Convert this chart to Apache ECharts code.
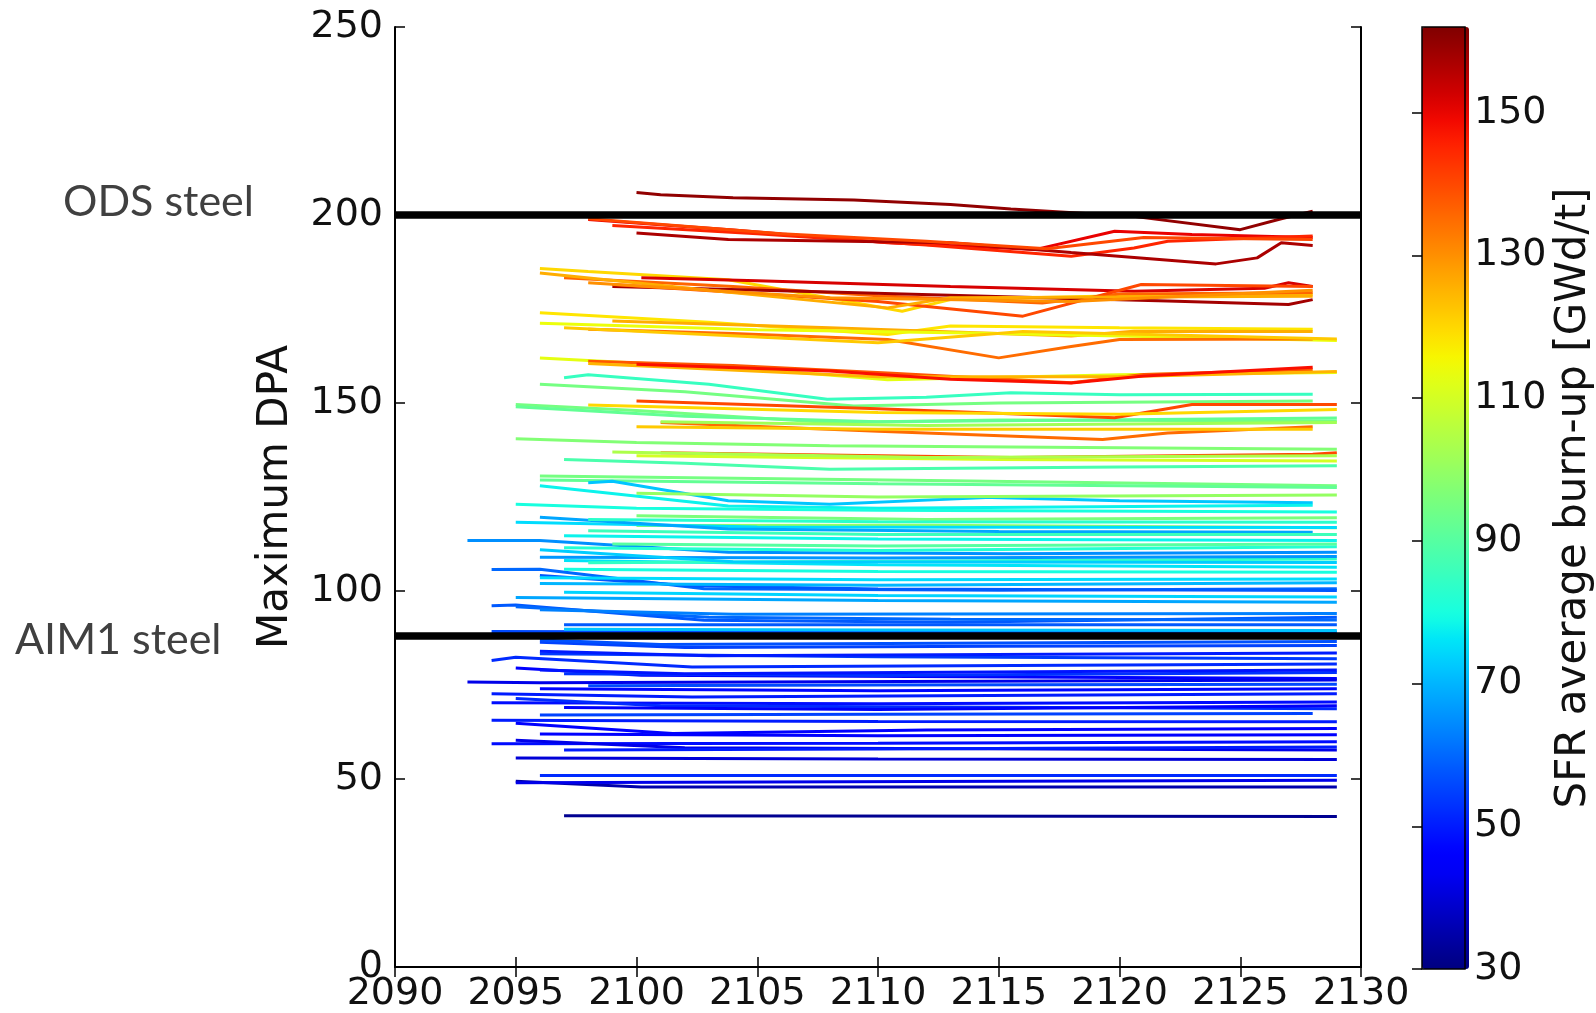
<!DOCTYPE html>
<html>
<head>
<meta charset="utf-8">
<script src="https://cdn.jsdelivr.net/npm/echarts@6/dist/echarts.min.js"></script>
<style>
    html, body { margin: 0; background: #fff; }
    #chart { width: 1596px; height: 1013px; }
</style>
</head>
<body>
<div id="chart"></div>
<script>
// colour scale range of the colour bar (SFR average burn-up, GWd/t)
const cbMin = 30;
const cbMax = 162;

// steel limits (Maximum DPA)
const odsLimit = 200;
const aimLimit = 88;

// each band: burn-up of every curve, then the curve knots [year, DPA]
const redBurnup = [160, 150, 145, 157, 140];
const redPaths = [
    [[2100, 206], [2101, 205.4], [2104, 204.6], [2109, 204], [2113, 202.8], [2115.5, 201.6], [2120.5, 199.7], [2125, 196.1], [2126.7, 199], [2128, 201]],
    [[2098, 198.8], [2104, 196], [2110.4, 192.6], [2116.5, 190.8], [2119.8, 195.7], [2123, 194.8], [2128, 194]],
    [[2099, 197.2], [2105, 195], [2112, 192], [2118, 189], [2120.6, 191.2], [2122, 193], [2128, 194.4]],
    [[2100, 195.2], [2103.8, 193.5], [2113, 192.6], [2118, 190], [2124, 187], [2125.7, 188.6], [2126.7, 192.6], [2128, 191.9]],
    [[2098, 199], [2106, 195], [2112, 193], [2117, 191], [2121, 194], [2128, 193.5]]
];

const orangeBurnup = [120, 152, 136, 158, 140, 126, 130];
const orangePaths = [
    [[2096, 185.8], [2098, 185], [2103.8, 182.8], [2111, 174.4], [2113, 177.5], [2120, 178.5], [2128, 178.9]],
    [[2100.2, 183.3], [2105, 182.5], [2113, 181], [2120.6, 179.7], [2126, 180.5], [2127, 182], [2128, 181]],
    [[2097, 183.3], [2104, 181], [2110, 178.5], [2116.8, 176.6], [2120, 179], [2128, 179.3]],
    [[2099, 181], [2108, 179.5], [2116.8, 178], [2122, 177.1], [2127, 176.2], [2128, 177.5]],
    [[2099, 181.5], [2110, 177], [2116, 173.1], [2120.9, 181.5], [2128, 181]],
    [[2096, 184.6], [2103, 180], [2110.4, 175.3], [2113, 178], [2128, 178.4]],
    [[2098, 182], [2108, 178], [2118, 177], [2128, 180]]
];

const yellowBurnup = [118, 126, 114, 135, 122, 113, 138, 125, 148, 85, 95];
const yellowPaths = [
    [[2096, 174], [2103, 171.5], [2110.4, 168.2], [2113, 170.5], [2120, 170], [2128, 169.6]],
    [[2099, 171.8], [2108, 170], [2118, 167.8], [2120.6, 169.1], [2128, 169]],
    [[2096, 171.2], [2105, 169.5], [2115, 168.5], [2129, 166.6]],
    [[2098, 169.6], [2104, 168.5], [2110.4, 166.9], [2115, 162], [2118, 165], [2120, 166.9], [2128, 167]],
    [[2097, 170], [2110, 166], [2116, 169], [2129, 167]],
    [[2096, 162], [2105, 159], [2110.4, 156.2], [2120, 157.5], [2129, 158.1]],
    [[2098, 161.1], [2104, 160], [2110.4, 158], [2118, 155.4], [2121, 157.6], [2128, 158.9]],
    [[2098, 160.5], [2110, 157], [2120, 157], [2129, 158.4]],
    [[2100, 160.3], [2108, 158.5], [2113, 156.3], [2118, 155.3], [2121, 157.2], [2128, 159.5]],
    [[2097, 156.7], [2098, 157.5], [2103, 155], [2107.9, 151], [2112, 151.5], [2115.5, 152.7], [2120, 152.2], [2128, 152.3]],
    [[2096, 155], [2102, 153], [2109, 149.2], [2115, 150], [2128, 150.5]]
];

const greenBurnup = [95, 92, 140, 120, 135, 122, 102, 97, 140, 110, 88, 104, 95, 92, 72, 78, 80, 100];
const greenPaths = [
    [[2095, 149.6], [2100, 148], [2108, 144.8], [2115, 145.5], [2129, 145.2]],
    [[2095, 149], [2102, 146.5], [2110, 145], [2129, 146]],
    [[2100, 150.5], [2110, 148.5], [2119.8, 146.1], [2123, 149.6], [2129, 149.6]],
    [[2098, 149.5], [2110, 147.5], [2120, 147], [2129, 148.3]],
    [[2101, 144.8], [2110, 142.5], [2119.3, 140.3], [2122, 142], [2128, 143.7]],
    [[2100, 143.7], [2110, 143], [2128, 143]],
    [[2101, 145], [2112, 144], [2129, 144.8]],
    [[2095, 140.5], [2100, 139.5], [2108, 138.6], [2129, 137.7]],
    [[2101, 136.8], [2115.5, 135.5], [2128, 136.4], [2129, 136.8]],
    [[2100, 136], [2115, 135], [2129, 134.6]],
    [[2097, 135], [2102, 134], [2108, 132.4], [2120, 133], [2129, 133.3]],
    [[2099, 137], [2112, 135.5], [2129, 136]],
    [[2096, 130.6], [2113, 129.3], [2129, 128]],
    [[2096, 129.5], [2110, 128.5], [2129, 127.5]],
    [[2098, 128.8], [2099, 129.2], [2103.8, 124], [2108, 123.1], [2114.7, 124.9], [2120, 124], [2128, 123.5]],
    [[2096, 128], [2103.8, 122.6], [2110, 122], [2128, 122.8]],
    [[2095, 123.1], [2100, 122], [2110, 121.5], [2129, 121]],
    [[2100, 126], [2110, 125], [2129, 125.5]]
];

const cyanBurnup = [96, 100, 75, 68, 78, 86, 65, 82, 90, 76, 60, 58, 75, 80, 84, 68, 74, 70, 58, 60, 63, 56, 72, 66, 83, 73, 58];
const cyanPaths = [
    [[2100, 120], [2112, 119], [2129, 119.5]],
    [[2100, 117.4], [2112, 117.5], [2129, 116.8]],
    [[2095, 118.3], [2105, 117], [2129, 116.9]],
    [[2096, 119.6], [2103.8, 116.5], [2115, 115.8], [2128, 115.6]],
    [[2097, 114.7], [2110, 113.8], [2129, 113.4]],
    [[2098, 116], [2110, 115], [2129, 115]],
    [[2093, 113.4], [2096, 113.4], [2103.8, 110.3], [2115.5, 109.9], [2129, 110.3]],
    [[2097, 111.5], [2110, 110.8], [2129, 111.8]],
    [[2099, 112.5], [2110, 112], [2129, 112.5]],
    [[2097, 108.1], [2110, 107], [2129, 106.3]],
    [[2094, 105.7], [2096, 105.8], [2102.8, 100.6], [2115, 100.2], [2129, 100.6]],
    [[2096, 104.1], [2102.3, 101.4], [2110, 100.5], [2129, 100.1]],
    [[2096, 103.5], [2110, 103], [2129, 103.2]],
    [[2097, 105.8], [2110, 105.2], [2129, 105]],
    [[2098, 107.5], [2112, 108], [2129, 108.5]],
    [[2095, 98.3], [2110, 97.5], [2129, 97]],
    [[2097, 99.7], [2110, 98.8], [2129, 98.4]],
    [[2096, 102], [2110, 101.5], [2129, 102.2]],
    [[2094, 96.1], [2095, 96.3], [2102.8, 92.2], [2113, 91.7], [2129, 93]],
    [[2095, 95.8], [2103, 93], [2113, 92.5], [2129, 92.3]],
    [[2096, 95], [2104, 93.8], [2129, 94]],
    [[2094, 89.2], [2110, 89], [2129, 89]],
    [[2097, 89.8], [2110, 89.6], [2129, 89.5]],
    [[2096, 109], [2110, 108.8], [2129, 109.2]],
    [[2098, 119], [2110, 118.4], [2129, 118.3]],
    [[2096, 111], [2104, 107.8], [2129, 107.6]],
    [[2097, 91], [2110, 91], [2129, 91]]
];

const blueBurnup = [55, 52, 45, 54, 57, 42, 50, 48, 52, 50, 55, 45, 48, 42, 50, 40, 52, 35, 42, 32, 47, 53, 50, 46, 44, 56, 49];
const bluePaths = [
    [[2096, 86.4], [2102, 85], [2115, 85.3], [2129, 85.5]],
    [[2094, 81.5], [2095, 82.4], [2102.3, 79.8], [2129, 80.6]],
    [[2095, 79.5], [2100.2, 77.6], [2129, 76.7]],
    [[2096, 83.3], [2110, 82.5], [2129, 82]],
    [[2096, 87], [2101, 85.8], [2129, 86.6]],
    [[2093, 75.8], [2096, 75.6], [2129, 76.3]],
    [[2094, 72.7], [2102.3, 71.8], [2129, 72.7]],
    [[2094, 70.3], [2110, 70], [2129, 70.5]],
    [[2095, 71.4], [2101, 69.5], [2129, 68.7]],
    [[2094, 65.6], [2110, 65.3], [2129, 65.2]],
    [[2096, 67], [2110, 67.2], [2128, 67.4]],
    [[2095, 64.8], [2101.5, 62.1], [2112, 63], [2129, 63.4]],
    [[2094, 59.4], [2110, 59.5], [2129, 59.9]],
    [[2095, 60.3], [2102, 58.3], [2129, 57.7]],
    [[2097, 57.7], [2110, 58], [2129, 58.5]],
    [[2095, 55.6], [2110, 55.3], [2129, 55.2]],
    [[2096, 50.9], [2129, 50.9]],
    [[2095, 49.4], [2100.2, 47.9], [2129, 47.9]],
    [[2095, 49], [2129, 49.7]],
    [[2097, 40.2], [2129, 40]],
    [[2096, 74], [2110, 73.5], [2129, 74]],
    [[2097, 78], [2110, 77.5], [2129, 78.3]],
    [[2096, 84], [2103, 82.8], [2129, 83.5]],
    [[2096, 62], [2110, 61.5], [2129, 61.8]],
    [[2097, 69], [2110, 68.5], [2129, 69.5]],
    [[2098, 74.8], [2110, 75], [2129, 75.2]],
    [[2096, 79], [2102, 78], [2129, 79]]
];

// matplotlib "jet" colour map
const jetR = [[0, 0], [0.35, 0], [0.66, 1], [0.89, 1], [1, 0.5]];
const jetG = [[0, 0], [0.125, 0], [0.375, 1], [0.64, 1], [0.91, 0], [1, 0]];
const jetB = [[0, 0.5], [0.11, 1], [0.34, 1], [0.65, 0], [1, 0]];

function channel(t, stops) {
    for (let i = 1; i < stops.length; i++) {
        if (t <= stops[i][0]) {
            const a = stops[i - 1], b = stops[i];
            return a[1] + (b[1] - a[1]) * (t - a[0]) / (b[0] - a[0]);
        }
    }
    return stops[stops.length - 1][1];
}

function jet(v) {
    const t = Math.min(1, Math.max(0, (v - cbMin) / (cbMax - cbMin)));
    const r = Math.round(channel(t, jetR) * 255);
    const g = Math.round(channel(t, jetG) * 255);
    const b = Math.round(channel(t, jetB) * 255);
    return 'rgb(' + r + ',' + g + ',' + b + ')';
}

const jetStops = [];
for (let i = 0; i <= 40; i++) {
    jetStops.push(jet(cbMin + (cbMax - cbMin) * i / 40));
}

const font = 'DejaVu Sans';
const series = [];

[[redBurnup, redPaths], [orangeBurnup, orangePaths], [yellowBurnup, yellowPaths],
 [greenBurnup, greenPaths], [cyanBurnup, cyanPaths], [blueBurnup, bluePaths]].forEach(band => {
    band[0].forEach((b, i) => {
        series.push({
            type: 'line',
            data: band[1][i],
            symbol: 'none',
            silent: true,
            lineStyle: {width: 3, color: jet(b)}
        });
    });
});

[odsLimit, aimLimit].forEach(v => {
    series.push({
        type: 'line',
        data: [[2090, v], [2130, v]],
        symbol: 'none',
        silent: true,
        z: 5,
        lineStyle: {width: 7.5, color: '#000'}
    });
});

// empty series that the colour bar is tied to
series.push({type: 'scatter', xAxisIndex: 2, yAxisIndex: 2, data: []});

const tickStyle = {inside: true, length: 10, lineStyle: {color: '#000', width: 1.5}};
const lineStyle = {lineStyle: {color: '#000', width: 2}};

let option = {
    backgroundColor: '#fff',
    animation: false,
    textStyle: {fontFamily: font},
    grid: [
        {left: 395, top: 27, width: 966, height: 942},
        {left: 1422, top: 27, width: 47, height: 942, show: true, z: 10,
            borderColor: '#000', borderWidth: 1.5, backgroundColor: 'transparent'}
    ],
    xAxis: [
        {type: 'value', gridIndex: 0, min: 2090, max: 2130, interval: 5, position: 'bottom',
            axisLine: lineStyle, axisTick: tickStyle, splitLine: {show: false},
            axisLabel: {fontSize: 38, color: '#111', margin: 8, fontFamily: font,
                formatter: v => String(v)}},
        {type: 'value', gridIndex: 0, min: 2090, max: 2130, interval: 5, position: 'top',
            axisLine: lineStyle, axisTick: tickStyle, splitLine: {show: false},
            axisLabel: {show: false}},
        {type: 'value', gridIndex: 1, min: 0, max: 1, show: false}
    ],
    yAxis: [
        {type: 'value', gridIndex: 0, min: 0, max: 250, interval: 50, position: 'left',
            axisLine: lineStyle, axisTick: tickStyle, splitLine: {show: false},
            axisLabel: {fontSize: 38, color: '#111', margin: 12, fontFamily: font},
            name: 'Maximum DPA', nameLocation: 'middle', nameGap: 98,
            nameTextStyle: {fontSize: 42, color: '#111', fontFamily: font}},
        {type: 'value', gridIndex: 0, min: 0, max: 250, interval: 50, position: 'right',
            axisLine: lineStyle, axisTick: tickStyle, splitLine: {show: false},
            axisLabel: {show: false}},
        {type: 'value', gridIndex: 1, min: cbMin, max: cbMax, interval: 20, position: 'right', z: 10,
            axisLine: {show: false}, axisTick: tickStyle, splitLine: {show: false},
            axisLabel: {fontSize: 38, color: '#111', margin: 9, fontFamily: font, showMaxLabel: false},
            name: 'SFR average burn-up [GWd/t]', nameLocation: 'middle', nameGap: 88, nameRotate: 90,
            nameTextStyle: {fontSize: 42, color: '#111', fontFamily: font}}
    ],
    visualMap: {
        type: 'continuous', min: cbMin, max: cbMax, seriesIndex: series.length - 1,
        left: 1422, top: 27, itemWidth: 47, itemHeight: 942, padding: 0,
        calculable: false, hoverLink: false, showLabel: false, text: null, z: 4,
        inRange: {color: jetStops}
    },
    graphic: [
        {type: 'text', left: 63, top: 181, style: {text: 'ODS steel', font: '43px Lato', fill: '#404040'}},
        {type: 'text', left: 15, top: 619, style: {text: 'AIM1 steel', font: '43px Lato', fill: '#404040'}}
    ],
    series: series
};

const myChart = echarts.init(document.getElementById('chart'));
myChart.setOption(option);
</script>
</body>
</html>
